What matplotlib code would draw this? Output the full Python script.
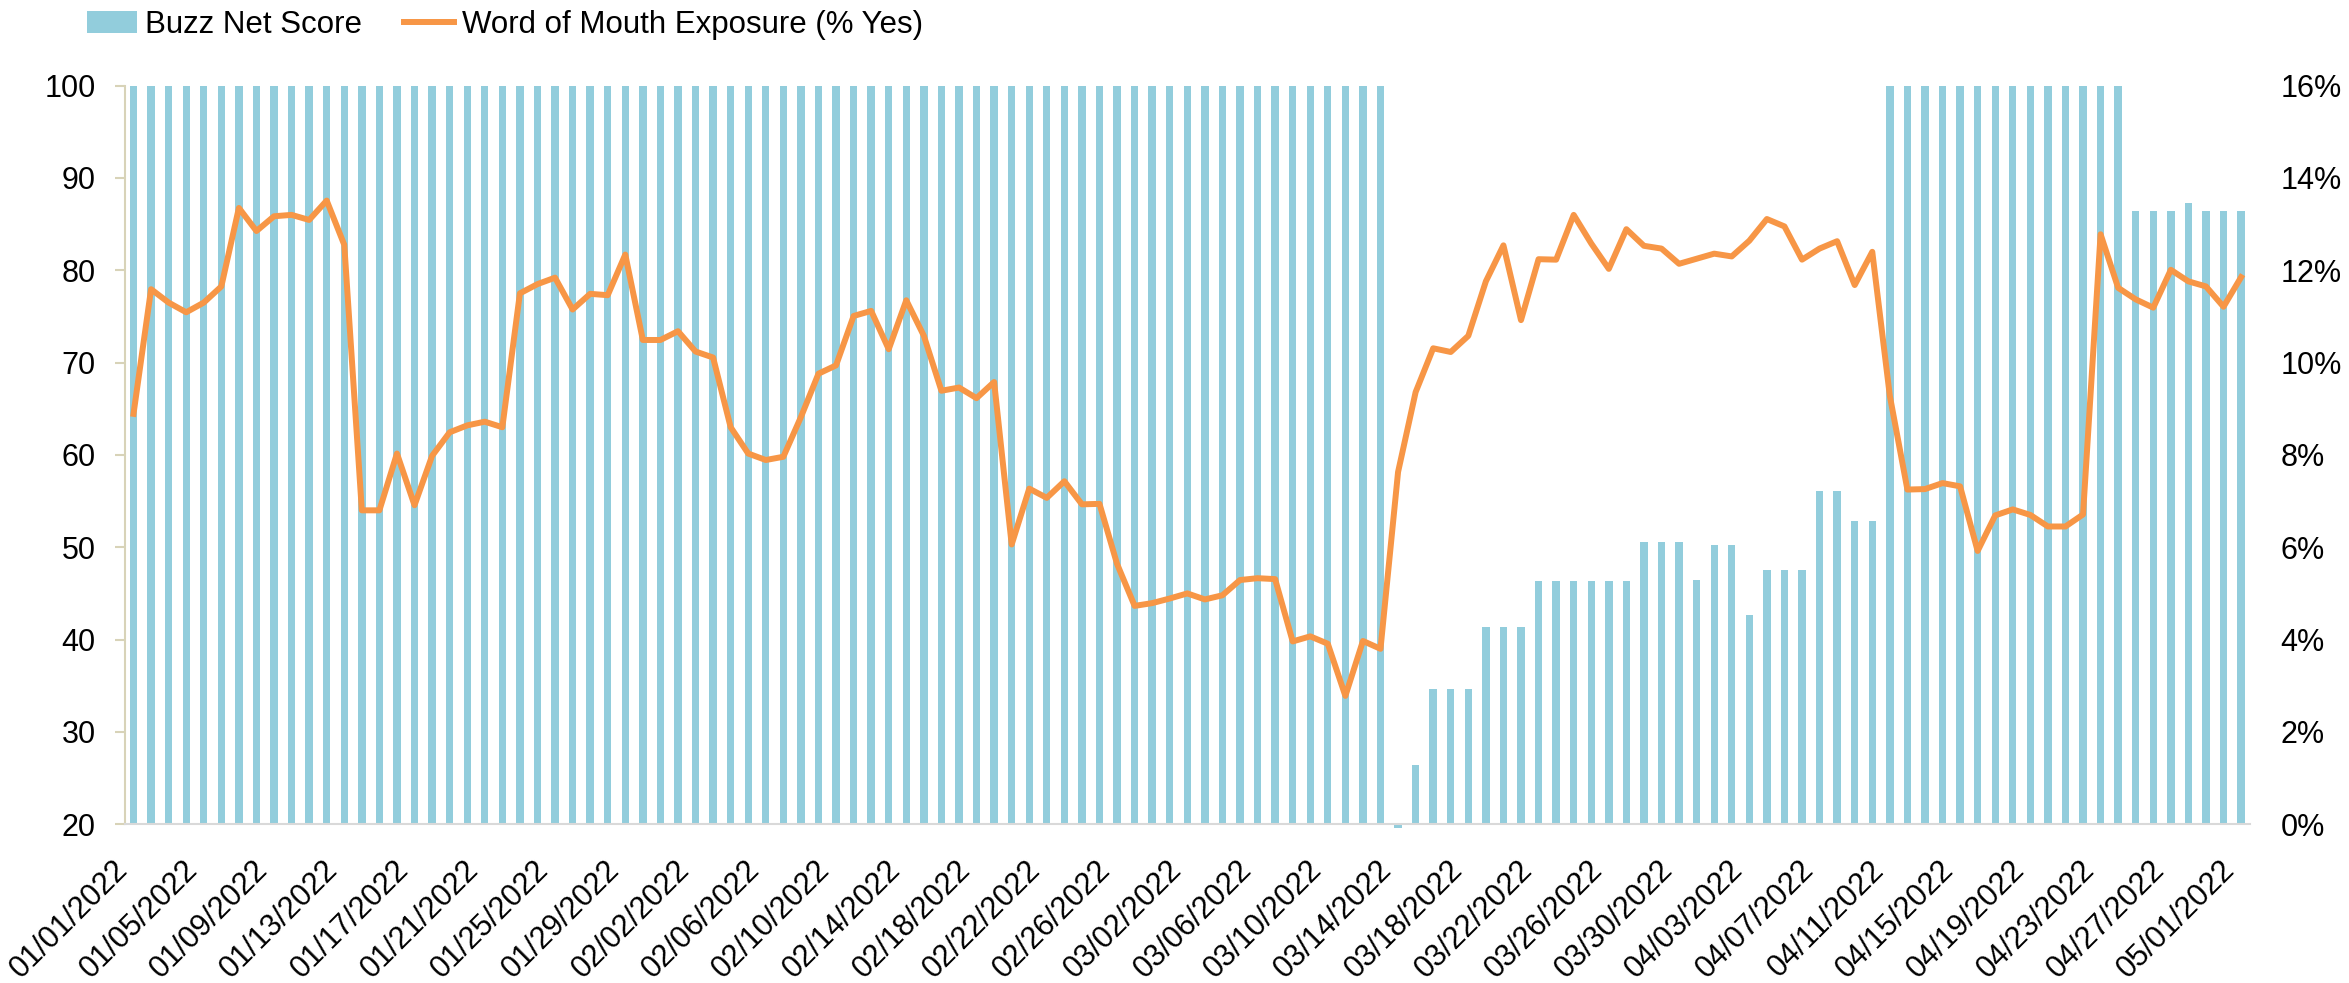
import numpy as np
import pandas as pd
from matplotlib import pyplot as plt
from matplotlib.patches import Patch
from matplotlib.lines import Line2D

plt.rcParams['font.family'] = ['Liberation Sans', 'DejaVu Sans']

dates = pd.date_range("2022-01-01", "2022-05-01", freq="D")

# Buzz Net Score (left axis, clipped at 100)
buzz = ([100] * 72
        + [19.6, 26.4, 34.7, 34.7, 34.7, 41.4, 41.4, 41.4,
           46.3, 46.3, 46.3, 46.3, 46.3, 46.3, 50.6, 50.6, 50.6,
           46.4, 50.2, 50.2, 42.7, 47.5, 47.5, 47.5, 56.1, 56.1, 52.8, 52.8]
        + [100] * 14
        + [86.4, 86.4, 86.4, 87.3, 86.4, 86.4, 86.4])

# Word of Mouth Exposure, % yes (right axis)
wom = [8.89, 11.59, 11.30, 11.09, 11.30, 11.65, 13.35, 12.85, 13.17, 13.20,
       13.09, 13.51, 12.55, 6.80, 6.80, 8.03, 6.91, 7.98, 8.49, 8.64,
       8.72, 8.60, 11.50, 11.70, 11.84, 11.15, 11.49, 11.46, 12.34, 10.49,
       10.49, 10.68, 10.24, 10.11, 8.60, 8.03, 7.89, 7.96, 8.82, 9.76,
       9.94, 11.01, 11.12, 10.29, 11.35, 10.58, 9.39, 9.46, 9.23, 9.58,
       6.06, 7.27, 7.07, 7.43, 6.93, 6.94, 5.64, 4.73, 4.79, 4.89,
       5.00, 4.87, 4.96, 5.29, 5.33, 5.31, 3.96, 4.07, 3.91, 2.78,
       3.97, 3.80, 7.63, 9.36, 10.31, 10.23, 10.58, 11.76, 12.54, 10.92,
       12.24, 12.23, 13.20, 12.58, 12.03, 12.89, 12.53, 12.47, 12.14, 12.25,
       12.36, 12.30, 12.64, 13.11, 12.95, 12.23, 12.47, 12.63, 11.68, 12.40,
       9.28, 7.25, 7.26, 7.39, 7.32, 5.92, 6.69, 6.82, 6.70, 6.45,
       6.45, 6.71, 12.78, 11.62, 11.37, 11.19, 12.01, 11.76, 11.65, 11.21,
       11.85]

tick_labels = [d.strftime("%m/%d/%Y") for d in dates[::4]]

bar_color = "#92CDDC"
line_color = "#F79646"
fs = 22

fig = plt.figure(figsize=(23.49, 9.83), dpi=100)
ax = fig.add_axes([0.0531, 0.1615, 0.9047, 0.7514])
x = np.arange(len(dates))
base = 20
ax.bar(x, np.array(buzz) - base, bottom=base, width=0.42, color=bar_color,
       clip_on=False, zorder=2)
ax.set_xlim(-0.5, len(dates) - 0.5)
ax.set_ylim(20, 100)
ax.set_yticks(range(20, 101, 10))
ax.set_xticks(x[::4])
ax.set_xticklabels(tick_labels, rotation=45, ha="right", fontsize=fs)
ax.tick_params(axis="x", length=0, pad=22)
ax.tick_params(axis="y", labelsize=fs, length=7, width=1.5, color="#D8D3B8", pad=14)
for s in ["top", "right"]:
    ax.spines[s].set_visible(False)
ax.spines["left"].set_color("#D8D3B8")
ax.spines["left"].set_linewidth(1.5)
ax.spines["bottom"].set_color("#D9D9D9")
ax.spines["bottom"].set_linewidth(1.5)

ax2 = ax.twinx()
ax2.plot(x, wom, color=line_color, lw=4.3, solid_joinstyle="round", zorder=3)
ax2.set_ylim(0, 16)
ax2.set_yticks(range(0, 17, 2))
ax2.set_yticklabels([f"{v}%" for v in range(0, 17, 2)])
ax2.tick_params(axis="y", labelsize=fs, length=0, pad=22)
for s in ["top", "right", "left", "bottom"]:
    ax2.spines[s].set_visible(False)

handles = [Patch(facecolor=bar_color, edgecolor="none"),
           Line2D([0], [0], color=line_color, lw=4.3)]
fig.legend(handles, ["Buzz Net Score", "Word of Mouth Exposure (% Yes)"],
           loc="center left", bbox_to_anchor=(87 / 2349, 1 - 25 / 983),
           ncol=2, frameon=False, fontsize=22.5, borderpad=0, borderaxespad=0,
           handlelength=1.6, handletextpad=0.25, columnspacing=1.34)

fig.savefig("out.png", dpi=100)
